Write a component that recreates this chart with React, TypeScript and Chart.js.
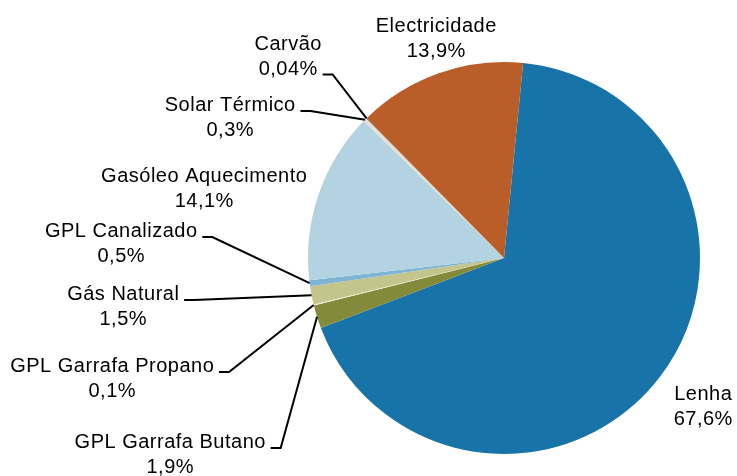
import React, { useEffect, useRef } from 'react';
import { Chart, registerables } from 'chart.js';

Chart.register(...registerables);

const categories = [
  'Lenha',
  'GPL Garrafa Butano',
  'GPL Garrafa Propano',
  'Gás Natural',
  'GPL Canalizado',
  'Gasóleo Aquecimento',
  'Solar Térmico',
  'Carvão',
  'Electricidade',
];
const shares = [67.6, 1.9, 0.1, 1.5, 0.5, 14.1, 0.3, 0.04, 13.9];
const shareLabels = ['67,6%', '1,9%', '0,1%', '1,5%', '0,5%', '14,1%', '0,3%', '0,04%', '13,9%'];
const sliceColors = [
  '#1874a8',
  '#838a3a',
  '#efedd6',
  '#c4c58c',
  '#7fb5d4',
  '#b3d3e2',
  '#e6e1d8',
  '#555555',
  '#b95e28',
];

// label placement (layout only): centre x, baseline of first line, line of text the leader attaches to
const labelCx = [703, 170, 112, 123, 121, 204, 230, 288, 436];
const labelBaseline = [400, 448, 372, 300, 237, 182, 111, 50, 32];
const leaderRow: (number | null)[] = [null, 0, 0, 0, 0, null, 0, 1, null];

const FONT = '20px "Liberation Sans", Arial, sans-serif';
const LINE_H = 24.5;
const SPACING = 0.5;

const labelPlugin = {
  id: 'pieLabels',
  afterDraw(chart: any) {
    const ctx = chart.ctx as CanvasRenderingContext2D;
    const meta = chart.getDatasetMeta(0);
    ctx.save();
    ctx.font = FONT;
    (ctx as any).letterSpacing = SPACING + 'px';
    ctx.fillStyle = '#000';
    ctx.textAlign = 'center';
    ctx.textBaseline = 'alphabetic';
    meta.data.forEach((arc: any, i: number) => {
      const lines = [categories[i], shareLabels[i]];
      const cx = labelCx[i] + SPACING / 2;
      const by = labelBaseline[i];
      lines.forEach((t, k) => ctx.fillText(t, cx, by + k * LINE_H));
      const row = leaderRow[i];
      if (row !== null) {
        const p = arc.getProps(['x', 'y', 'startAngle', 'endAngle', 'outerRadius'], true);
        const mid = (p.startAngle + p.endAngle) / 2;
        const ax = p.x + Math.cos(mid) * p.outerRadius;
        const ay = p.y + Math.sin(mid) * p.outerRadius;
        const w = ctx.measureText(lines[row]).width;
        const sx = labelCx[i] + w / 2 + 5;
        const sy = by + row * LINE_H;
        ctx.beginPath();
        ctx.strokeStyle = '#000';
        ctx.lineWidth = 2;
        ctx.lineJoin = 'miter';
        ctx.moveTo(sx, sy);
        ctx.lineTo(sx + 10, sy);
        ctx.lineTo(ax, ay);
        ctx.stroke();
      }
    });
    ctx.restore();
  },
};

export default function App() {
  const ref = useRef<HTMLCanvasElement | null>(null);
  useEffect(() => {
    document.body.style.margin = '0';
    const chart = new Chart(ref.current as HTMLCanvasElement, {
      type: 'pie',
      data: {
        labels: categories,
        datasets: [
          {
            data: shares,
            backgroundColor: sliceColors,
            borderWidth: 0,
          },
        ],
      },
      options: {
        responsive: false,
        animation: false,
        rotation: 5.6,
        layout: { padding: { left: 308, right: 37, top: 62, bottom: 22 } },
        plugins: {
          legend: { display: false },
          tooltip: { enabled: false },
        },
      },
      plugins: [labelPlugin],
    });
    return () => chart.destroy();
  }, []);
  return (
    <div style={{ width: 737, height: 476, background: '#fff' }}>
      <canvas ref={ref} width={737} height={476} style={{ display: 'block' }} />
    </div>
  );
}
